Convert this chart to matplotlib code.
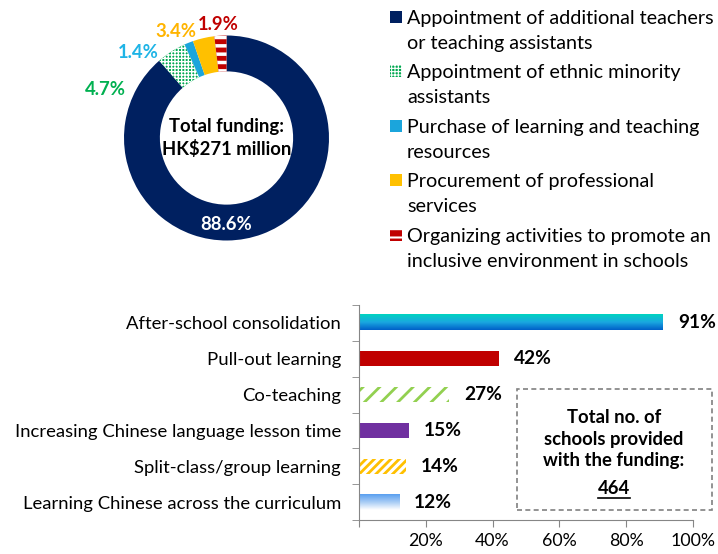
import matplotlib.pyplot as plt
import numpy as np
from matplotlib.patches import Rectangle
from matplotlib.colors import LinearSegmentedColormap

plt.rcParams['font.family'] = ['Lato', 'DejaVu Sans']
plt.rcParams['hatch.linewidth'] = 2.0

# donut data
fund_items = ['Appointment of additional teachers\nor teaching assistants',
              'Appointment of ethnic minority\nassistants',
              'Purchase of learning and teaching\nresources',
              'Procurement of professional\nservices',
              'Organizing activities to promote an\ninclusive environment in schools']
fund_share = [88.6, 4.7, 1.4, 3.4, 1.9]
fund_colors = ['#002060', '#00A850', '#1BA5DC', '#FFC000', '#C00000']
fund_hatch = [None, '+++++', None, None, '--']
label_colors = ['white', '#00B050', '#1FB4E6', '#FFB400', '#C00000']

# bar data
measures = ['After-school consolidation', 'Pull-out learning', 'Co-teaching',
            'Increasing Chinese language lesson time', 'Split-class/group learning',
            'Learning Chinese across the curriculum']
pct = [91, 42, 27, 15, 14, 12]

W, H = 718, 554
fig = plt.figure(figsize=(W / 100, H / 100), dpi=100)


def fx(px):
    return px / W


def fy(py):
    return 1 - py / H


# ---- donut
ax1 = fig.add_axes([fx(124), fy(240.5), 205 / W, 205 / H])
wedges, _ = ax1.pie(fund_share, startangle=90, counterclock=False, radius=1,
                    colors=fund_colors, wedgeprops=dict(width=0.35, linewidth=0))
for w, h in zip(wedges, fund_hatch):
    if h:
        w.set_hatch(h)
        w.set_edgecolor('white')
        try:
            w.set_hatch_linewidth(1.0 if h.startswith('+') else 2.5)
        except AttributeError:
            pass
ax1.set_xlim(-1, 1)
ax1.set_ylim(-1, 1)
ax1.set_aspect('equal')
ax1.axis('off')

# label positions (angle deg, radius)
lab_pos = [(-90, 0.84), (158, 1.27), (136, 1.20), (115.5, 1.15), (94, 1.11)]
for v, c, (a, r) in zip(fund_share, label_colors, lab_pos):
    ax1.text(r * np.cos(np.radians(a)), r * np.sin(np.radians(a)), f'{v}%',
             ha='center', va='center', color=c, fontsize=13.3, fontweight='bold')
ax1.text(0, 0, 'Total funding:\nHK$271 million', ha='center', va='center',
         fontsize=13.3, fontweight='bold', linespacing=1.35)

# legend (drawn by hand so the marker sits on the first line)
item_y = [17, 71, 126, 180, 235]
for label, c, h, yy in zip(fund_items, fund_colors, fund_hatch, item_y):
    r = Rectangle((fx(390), fy(yy + 6)), 12 / W, 12 / H, transform=fig.transFigure,
                  facecolor=c, linewidth=0)
    if h:
        r.set_hatch(h)
        r.set_edgecolor('white')
        try:
            r.set_hatch_linewidth(0.8 if h.startswith('+') else 1.5)
        except AttributeError:
            pass
    fig.add_artist(r)
    for k, line in enumerate(label.split('\n')):
        fig.text(fx(407), fy(yy + 25 * k), line, ha='left', va='center_baseline',
                 fontsize=14.2)

# ---- bars
ax2 = fig.add_axes([fx(359), fy(520), 334 / W, 215 / H])
y = np.arange(len(measures))
bh = 0.42
styles = [None,
          dict(color='#C00000'),
          dict(facecolor='white', hatch='//', edgecolor='#92D050', linewidth=0),
          dict(color='#7030A0'),
          dict(facecolor='white', hatch='////', edgecolor='#FFC000', linewidth=0),
          None]
grad_maps = {0: LinearSegmentedColormap.from_list('g0', ['#00D4C0', '#1AA8E0', '#0060C8']),
             5: LinearSegmentedColormap.from_list('g5', ['#5AA0F0', '#A8CCF5', '#FFFFFF'])}
for i, (v, st) in enumerate(zip(pct, styles)):
    if st is None:
        grad = np.linspace(0, 1, 50).reshape(-1, 1)
        ax2.imshow(grad, cmap=grad_maps[i], aspect='auto',
                   extent=[0, v, i + bh / 2, i - bh / 2], zorder=2)
    else:
        ax2.barh(i, v, height=bh, zorder=2, **st)
    ax2.text(v + 4.5, i, f'{v}%', va='center', ha='left', fontsize=13.8, fontweight='bold')

ax2.set_xlim(0, 100)
ax2.set_ylim(len(measures) - 0.5, -0.5)
ax2.set_yticks(y)
ax2.set_yticklabels(measures, fontsize=13.3)
ax2.tick_params(axis='y', length=0, pad=13)
ax2.set_yticks(np.arange(len(measures) + 1) - 0.5, minor=True)
ax2.tick_params(axis='y', which='minor', length=5, color='#868686')
ax2.set_xticks(np.arange(0, 101, 20))
ax2.set_xticklabels([''] + [f'{t}%' for t in range(20, 101, 20)], fontsize=12.8)
ax2.tick_params(axis='x', length=5, color='#868686', pad=4)
for s in ['top', 'right']:
    ax2.spines[s].set_visible(False)
for s in ['left', 'bottom']:
    ax2.spines[s].set_color('#868686')

# dashed box
box = Rectangle((fx(517), fy(510)), 195 / W, 121 / H, transform=fig.transFigure,
                fill=False, linestyle=(0, (3, 2)), edgecolor='#808080', linewidth=1.2)
fig.add_artist(box)
fig.text(fx(614), fy(439), 'Total no. of\nschools provided\nwith the funding:',
         ha='center', va='center', fontsize=13.3, fontweight='bold', linespacing=1.3)
fig.text(fx(614), fy(488), '464', ha='center', va='center',
         fontsize=13.3, fontweight='bold')
fig.add_artist(plt.Line2D([fx(598), fx(630)], [fy(498), fy(498)], color='black', linewidth=1.2))

fig.savefig('out.png', dpi=100)
